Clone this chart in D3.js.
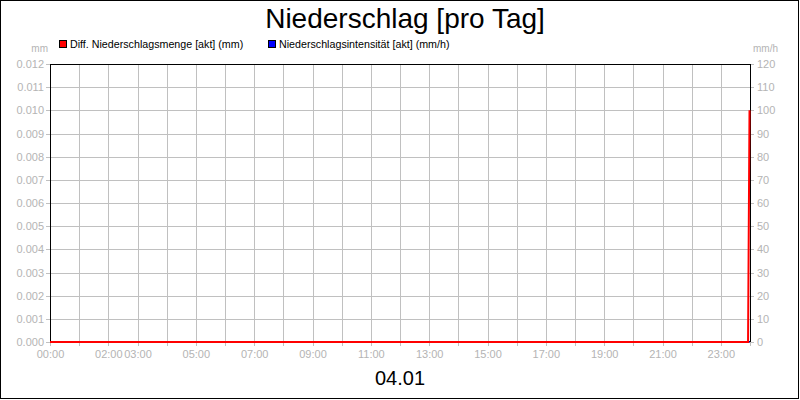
<!DOCTYPE html>
<html>
<head>
<meta charset="utf-8">
<script src="https://cdn.jsdelivr.net/npm/d3@7"></script>
<style>
  body { margin: 0; background: #fff; }
  svg { display: block; font-family: "Liberation Sans", Arial, sans-serif; }
</style>
</head>
<body>
<svg id="chart" width="800" height="400"></svg>
<script>
'use strict';
// minutes since midnight
var mengeMinutes = [0, 1436, 1439];
var mengeValues = [0, 0, 0.010];
var intensMinutes = [0, 1439];
var intensValues = [0, 0];
var xTickLabels = ['00:00', '02:00', '03:00', '05:00', '07:00', '09:00', '11:00', '13:00', '15:00', '17:00', '19:00', '21:00', '23:00'];
var leftTicks = [0, 0.001, 0.002, 0.003, 0.004, 0.005, 0.006, 0.007, 0.008, 0.009, 0.010, 0.011, 0.012];
var rightTicks = [0, 10, 20, 30, 40, 50, 60, 70, 80, 90, 100, 110, 120];
var seriesNames = ['Diff. Niederschlagsmenge [akt] (mm)', 'Niederschlagsintensität [akt] (mm/h)'];
var seriesColors = ['#ff0000', '#0000ff'];

var svg = d3.select('#chart');
var pLeft = 50, pRight = 750, pTop = 64, pBottom = 342;
var grey = '#b4b4b4';

var x = d3.scaleLinear().domain([0, 1440]).range([pLeft, pRight]);
var yL = d3.scaleLinear().domain([0, 0.012]).range([pBottom, pTop]);
var yR = d3.scaleLinear().domain([0, 120]).range([pBottom, pTop]);

svg.append('rect').attr('x', 0.5).attr('y', 0.5).attr('width', 798).attr('height', 398)
  .style('fill', '#fff').style('stroke', '#000');

// grid
var hours = d3.range(0, 25);
svg.append('g').selectAll('line.v').data(hours).enter().append('line')
  .attr('x1', function (h) { return Math.round(x(h * 60)) + 0.5; })
  .attr('x2', function (h) { return Math.round(x(h * 60)) + 0.5; })
  .attr('y1', pTop).attr('y2', pBottom + 4)
  .style('stroke', '#c0c0c0');
svg.append('g').selectAll('line.h').data(leftTicks).enter().append('line')
  .attr('x1', pLeft - 4).attr('x2', pRight + 4)
  .attr('y1', function (d) { return Math.round(yL(d)) + 0.5; })
  .attr('y2', function (d) { return Math.round(yL(d)) + 0.5; })
  .style('stroke', '#c0c0c0');

// axes
var axL = svg.append('g').attr('transform', 'translate(' + (pLeft - 4) + ',0)')
  .call(d3.axisLeft(yL).tickValues(leftTicks).tickFormat(d3.format('.3f')).tickSize(0).tickPadding(2));
var axR = svg.append('g').attr('transform', 'translate(' + (pRight + 4) + ',0)')
  .call(d3.axisRight(yR).tickValues(rightTicks).tickFormat(d3.format('d')).tickSize(0).tickPadding(3));
var axB = svg.append('g').attr('transform', 'translate(0,' + (pBottom + 4) + ')')
  .call(d3.axisBottom(x).tickValues(xTickLabels.map(function (t) { return +t.slice(0, 2) * 60; }))
    .tickFormat(function (d, i) { return xTickLabels[i]; }).tickSize(0).tickPadding(4));
[axL, axR, axB].forEach(function (a) {
  a.select('.domain').remove();
  a.selectAll('text').style('fill', grey).style('font-size', '11px').style('font-family', '"Liberation Sans", Arial, sans-serif');
});
axB.selectAll('text').attr('dy', '0.75em');

// frame
svg.append('rect').attr('x', pLeft + 0.5).attr('y', pTop + 0.5)
  .attr('width', pRight - pLeft).attr('height', pBottom - pTop - 1)
  .style('fill', 'none').style('stroke', '#000');

// series
var lineB = d3.line().x(function (d) { return x(d[0]); }).y(function (d) { return yR(d[1]); });
svg.append('path').datum(d3.zip(intensMinutes, intensValues)).attr('d', lineB)
  .style('fill', 'none').style('stroke', seriesColors[1]).style('stroke-width', 2);
var lineR = d3.line().x(function (d) { return x(d[0]); }).y(function (d) { return yL(d[1]); });
svg.append('path').datum(d3.zip(mengeMinutes, mengeValues)).attr('d', lineR)
  .style('fill', 'none').style('stroke', seriesColors[0]).style('stroke-width', 2);

// units
svg.append('text').attr('x', 48).attr('y', 52).attr('text-anchor', 'end')
  .style('font-size', '10px').style('fill', grey).text('mm');
svg.append('text').attr('x', 753).attr('y', 52)
  .style('font-size', '10px').style('fill', grey).text('mm/h');

// title
svg.append('text').attr('x', 405).attr('y', 28).attr('text-anchor', 'middle')
  .style('font-size', '28px').style('fill', '#000').text('Niederschlag [pro Tag]');

// legend
var legX = [59, 268];
var leg = svg.append('g').selectAll('g').data(seriesNames).enter().append('g')
  .attr('transform', function (d, i) { return 'translate(' + legX[i] + ',40)'; });
leg.append('rect').attr('x', 0.5).attr('y', 0.5).attr('width', 7).attr('height', 7)
  .style('fill', function (d, i) { return seriesColors[i]; }).style('stroke', '#000');
leg.append('text').attr('x', 11).attr('y', 8).style('font-size', '10.7px').style('fill', '#000')
  .text(function (d) { return d; });

// date
svg.append('text').attr('x', 400).attr('y', 385).attr('text-anchor', 'middle')
  .style('font-size', '20px').style('fill', '#000').text('04.01');
</script>
</body>
</html>
